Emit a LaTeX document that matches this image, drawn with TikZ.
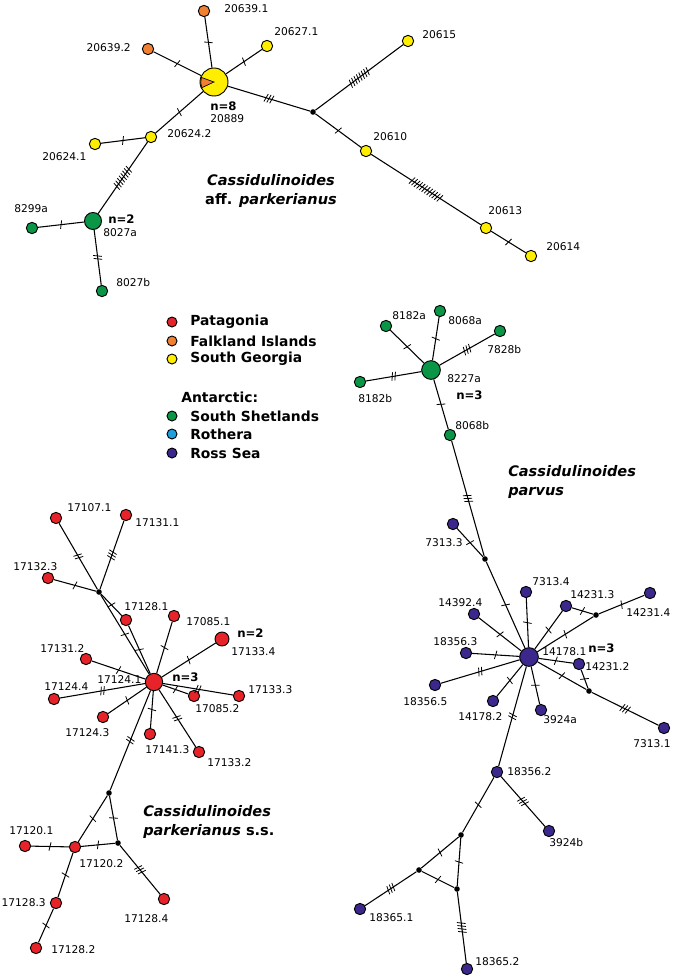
\documentclass[tikz,border=0pt]{standalone}
\usepackage{fontspec}
\setmainfont{DejaVu Sans}
\usetikzlibrary{decorations.markings}
\definecolor{patag}{RGB}{230,35,40}
\definecolor{falk}{RGB}{240,128,50}
\definecolor{sgeo}{RGB}{255,238,0}
\definecolor{shet}{RGB}{10,150,70}
\definecolor{roth}{RGB}{30,160,220}
\definecolor{ross}{RGB}{60,40,140}

\begin{document}
\begin{tikzpicture}[x=0.75pt,y=0.75pt,yscale=-1,xscale=1,
  hap/.style={circle,draw,line width=0.7pt,inner sep=0pt,minimum size=8.5pt},
  med/.style={circle,fill=black,inner sep=0pt,minimum size=4.2pt},
  link/.style={line width=0.8pt},
  muts/.style={postaction={decorate,decoration={markings,mark=at position 0.5 with {\foreach \k in {1,...,#1} {\draw[line width=0.6pt] ({(\k-(#1+1)/2)*3-1},-4.2) -- ({(\k-(#1+1)/2)*3+1},4.2);}}}}},
  lab/.style={inner sep=0.75pt,font=\fontsize{8}{9}\selectfont},
  nlab/.style={inner sep=0.75pt,font=\fontsize{8.8}{10}\selectfont\bfseries},
  leg/.style={inner sep=0.75pt,font=\fontsize{10.4}{12}\selectfont\bfseries},
  taxon/.style={inner sep=0.75pt,font=\fontsize{10.9}{14.3}\selectfont\bfseries\itshape}]
\useasboundingbox (0,0) rectangle (673,979);

% Cassidulinoides aff. parkerianus
\node [hap,fill=sgeo,minimum size=21pt] (n20889) at (214,82) {};
\draw [fill=falk,line width=0.5pt] (n20889.center) -- ++(155:10pt) arc[start angle=155,end angle=200,radius=10pt] -- cycle;
\node [med] (j1) at (313,112) {};
\node [hap,fill=falk] (n20639-1) at (204,11) {};
\node [hap,fill=sgeo] (n20627-1) at (267,46) {};
\node [hap,fill=falk] (n20639-2) at (148,49) {};
\node [hap,fill=sgeo] (n20624-2) at (151,137) {};
\node [hap,fill=sgeo] (n20624-1) at (95,144) {};
\node [hap,fill=shet,minimum size=12.75pt] (n8027a) at (93,221) {};
\node [hap,fill=shet] (n8299a) at (32,228) {};
\node [hap,fill=shet] (n8027b) at (102,291) {};
\node [hap,fill=sgeo] (n20615) at (408,41) {};
\node [hap,fill=sgeo] (n20610) at (366,151) {};
\node [hap,fill=sgeo] (n20613) at (486,228) {};
\node [hap,fill=sgeo] (n20614) at (531,256) {};

\draw [link,muts=1] (n20889) -- (n20639-1);
\draw [link,muts=1] (n20889) -- (n20627-1);
\draw [link,muts=1] (n20889) -- (n20639-2);
\draw [link,muts=1] (n20889) -- (n20624-2);
\draw [link,muts=3] (n20889) -- (j1);
\draw [link,muts=8] (j1) -- (n20615);
\draw [link,muts=1] (j1) -- (n20610);
\draw [link,muts=12] (n20610) -- (n20613);
\draw [link,muts=1] (n20613) -- (n20614);
\draw [link,muts=1] (n20624-2) -- (n20624-1);
\draw [link,muts=8] (n20624-2) -- (n8027a);
\draw [link,muts=1] (n8027a) -- (n8299a);
\draw [link,muts=2] (n8027a) -- (n8027b);

\node [lab,anchor=west] (t20639-1) at (223,9) {20639.1};
\node [lab,anchor=west] (t20627-1) at (273,32) {20627.1};
\node [lab,anchor=east] (t20639-2) at (132,48) {20639.2};
\node [nlab,anchor=west] (c20889) at (209,106) {n=8};
\node [lab,anchor=west] (t20889) at (209,119) {20889};
\node [lab,anchor=west] (t20624-2) at (166,134) {20624.2};
\node [lab,anchor=west] (t20624-1) at (41,157) {20624.1};
\node [nlab,anchor=west] (c8027a) at (107,219) {n=2};
\node [lab,anchor=west] (t8027a) at (102,233) {8027a};
\node [lab,anchor=west] (t8299a) at (13,209) {8299a};
\node [lab,anchor=west] (t8027b) at (115,283) {8027b};
\node [lab,anchor=west] (t20615) at (421,35) {20615};
\node [lab,anchor=west] (t20610) at (372,137) {20610};
\node [lab,anchor=west] (t20613) at (487,211) {20613};
\node [lab,anchor=west] (t20614) at (545,247) {20614};
\node [taxon,align=center] (taxaff) at (271,191) {Cassidulinoides\\{\upshape aff.} parkerianus};

% legend
\node [hap,fill=patag,minimum size=7.5pt] (lg1) at (172,322) {};
\node [hap,fill=falk,minimum size=7.5pt] (lg2) at (172,341) {};
\node [hap,fill=sgeo,minimum size=7.5pt] (lg3) at (172,359) {};
\node [hap,fill=shet,minimum size=7.5pt] (lg4) at (172,416) {};
\node [hap,fill=roth,minimum size=7.5pt] (lg5) at (172,434) {};
\node [hap,fill=ross,minimum size=7.5pt] (lg6) at (172,453) {};
\node [leg,anchor=west] (tlg1) at (189,322) {Patagonia};
\node [leg,anchor=west] (tlg2) at (189,341) {Falkland Islands};
\node [leg,anchor=west] (tlg3) at (189,359) {South Georgia};
\node [leg,anchor=west] (tant) at (180,397) {Antarctic:};
\node [leg,anchor=west] (tlg4) at (189,416) {South Shetlands};
\node [leg,anchor=west] (tlg5) at (189,434) {Rothera};
\node [leg,anchor=west] (tlg6) at (189,453) {Ross Sea};

% Cassidulinoides parvus
\node [hap,fill=shet,minimum size=14pt] (n8227a) at (431,370) {};
\node [hap,fill=shet] (n8182a) at (386,326) {};
\node [hap,fill=shet] (n8068a) at (440,311) {};
\node [hap,fill=shet] (n7828b) at (500,331) {};
\node [hap,fill=shet] (n8182b) at (360,382) {};
\node [hap,fill=shet] (n8068b) at (450,435) {};
\node [med] (j2) at (485,559) {};
\node [hap,fill=ross] (n7313-3) at (453,524) {};
\node [hap,fill=ross,minimum size=14pt] (n14178-1) at (529,657) {};
\node [hap,fill=ross] (n7313-4) at (526,592) {};
\node [hap,fill=ross] (n14392-4) at (474,614) {};
\node [hap,fill=ross] (n14231-3) at (566,606) {};
\node [med] (j3) at (596,615) {};
\node [hap,fill=ross] (n14231-4) at (650,593) {};
\node [hap,fill=ross] (n18356-3) at (466,653) {};
\node [hap,fill=ross] (n14231-2) at (579,664) {};
\node [med] (j4) at (589,691) {};
\node [hap,fill=ross] (n7313-1) at (664,728) {};
\node [hap,fill=ross] (n18356-5) at (435,685) {};
\node [hap,fill=ross] (n14178-2) at (493,701) {};
\node [hap,fill=ross] (n3924a) at (541,710) {};
\node [hap,fill=ross] (n18356-2) at (497,772) {};
\node [hap,fill=ross] (n3924b) at (549,831) {};
\node [med] (j5) at (461,835) {};
\node [med] (j6) at (419,870) {};
\node [med] (j7) at (457,889) {};
\node [hap,fill=ross] (n18365-1) at (360,909) {};
\node [hap,fill=ross] (n18365-2) at (467,969) {};

\draw [link,muts=1] (n8227a) -- (n8182a);
\draw [link,muts=1] (n8227a) -- (n8068a);
\draw [link,muts=3] (n8227a) -- (n7828b);
\draw [link,muts=2] (n8227a) -- (n8182b);
\draw [link,muts=1] (n8227a) -- (n8068b);
\draw [link,muts=3] (n8068b) -- (j2);
\draw [link,muts=1] (j2) -- (n7313-3);
\draw [link,muts=1] (j2) -- (n14178-1);
\draw [link,muts=1] (n14178-1) -- (n7313-4);
\draw [link,muts=1] (n14178-1) -- (n14392-4);
\draw [link,muts=1] (n14178-1) -- (n14231-3);
\draw [link,muts=1] (n14178-1) -- (j3);
\draw [link,muts=1] (j3) -- (n14231-3);
\draw [link,muts=1] (j3) -- (n14231-4);
\draw [link,muts=1] (n14178-1) -- (n18356-3);
\draw [link,muts=1] (n14178-1) -- (n14231-2);
\draw [link,muts=1] (n14231-2) -- (j4);
\draw [link,muts=1] (n14178-1) -- (j4);
\draw [link,muts=3] (j4) -- (n7313-1);
\draw [link,muts=2] (n14178-1) -- (n18356-5);
\draw [link,muts=1] (n14178-1) -- (n14178-2);
\draw [link,muts=1] (n14178-1) -- (n3924a);
\draw [link,muts=2] (n14178-1) -- (n18356-2);
\draw [link,muts=3] (n18356-2) -- (n3924b);
\draw [link,muts=1] (n18356-2) -- (j5);
\draw [link,muts=1] (j5) -- (j6);
\draw [link,muts=1] (j5) -- (j7);
\draw [link,muts=1] (j6) -- (j7);
\draw [link,muts=3] (j6) -- (n18365-1);
\draw [link,muts=4] (j7) -- (n18365-2);

\node [lab,anchor=west] (t8182a) at (391,316) {8182a};
\node [lab,anchor=west] (t8068a) at (447,321) {8068a};
\node [lab,anchor=west] (t7828b) at (486,350) {7828b};
\node [lab,anchor=west] (t8227a) at (446,379) {8227a};
\node [nlab,anchor=west] (c8227a) at (455,395) {n=3};
\node [lab,anchor=west] (t8182b) at (357,399) {8182b};
\node [lab,anchor=west] (t8068b) at (454,426) {8068b};
\node [lab,anchor=west] (t7313-3) at (424,543) {7313.3};
\node [lab,anchor=west] (t7313-4) at (531,582) {7313.4};
\node [lab,anchor=west] (t14392-4) at (437,603) {14392.4};
\node [lab,anchor=west] (t14231-3) at (569,595) {14231.3};
\node [lab,anchor=west] (t14231-4) at (625,613) {14231.4};
\node [lab,anchor=west] (t18356-3) at (432,642) {18356.3};
\node [lab,anchor=west] (t14178-1) at (541,652) {14178.1};
\node [nlab,anchor=west] (c14178-1) at (587,648) {n=3};
\node [lab,anchor=west] (t14231-2) at (584,667) {14231.2};
\node [lab,anchor=west] (t7313-1) at (632,744) {7313.1};
\node [lab,anchor=west] (t18356-5) at (402,702) {18356.5};
\node [lab,anchor=west] (t14178-2) at (457,717) {14178.2};
\node [lab,anchor=west] (t3924a) at (542,720) {3924a};
\node [lab,anchor=west] (t18356-2) at (506,772) {18356.2};
\node [lab,anchor=west] (t3924b) at (548,843) {3924b};
\node [lab,anchor=west] (t18365-1) at (368,918) {18365.1};
\node [lab,anchor=west] (t18365-2) at (474,962) {18365.2};
\node [taxon,anchor=west,align=left] (taxpar) at (507,482) {Cassidulinoides\\parvus};

% Cassidulinoides parkerianus s.s.
\node [hap,fill=patag,minimum size=13pt] (n17124-1) at (154,682) {};
\node [med] (j8) at (99,592) {};
\node [hap,fill=patag] (n17107-1) at (56,518) {};
\node [hap,fill=patag] (n17131-1) at (126,515) {};
\node [hap,fill=patag] (n17132-3) at (48,578) {};
\node [hap,fill=patag] (n17128-1) at (126,620) {};
\node [hap,fill=patag] (n17085-1) at (174,616) {};
\node [hap,fill=patag,minimum size=10.5pt] (n17133-4) at (222,639) {};
\node [hap,fill=patag] (n17131-2) at (86,659) {};
\node [hap,fill=patag] (n17124-4) at (54,699) {};
\node [hap,fill=patag] (n17124-3) at (103,717) {};
\node [hap,fill=patag] (n17141-3) at (150,734) {};
\node [hap,fill=patag] (n17133-2) at (199,752) {};
\node [hap,fill=patag] (n17085-2) at (194,696) {};
\node [hap,fill=patag] (n17133-3) at (239,696) {};
\node [med] (j9) at (109,793) {};
\node [med] (j10) at (118,843) {};
\node [hap,fill=patag] (n17120-2) at (75,847) {};
\node [hap,fill=patag] (n17120-1) at (25,846) {};
\node [hap,fill=patag] (n17128-3) at (56,903) {};
\node [hap,fill=patag] (n17128-2) at (36,948) {};
\node [hap,fill=patag] (n17128-4) at (164,899) {};

\draw [link,muts=2] (j8) -- (n17107-1);
\draw [link,muts=3] (j8) -- (n17131-1);
\draw [link,muts=1] (j8) -- (n17132-3);
\draw [link,muts=1] (j8) -- (n17128-1);
\draw [link,muts=1] (n17128-1) -- (n17124-1);
\draw [link,muts=1] (j8) -- (n17124-1);
\draw [link,muts=1] (n17124-1) -- (n17085-1);
\draw [link,muts=1] (n17124-1) -- (n17133-4);
\draw [link,muts=1] (n17124-1) -- (n17131-2);
\draw [link,muts=2] (n17124-1) -- (n17124-4);
\draw [link,muts=1] (n17124-1) -- (n17124-3);
\draw [link,muts=1] (n17124-1) -- (n17141-3);
\draw [link,muts=2] (n17124-1) -- (n17133-2);
\draw [link,muts=1] (n17124-1) -- (n17085-2);
\draw [link,muts=2] (n17124-1) -- (n17133-3);
\draw [link,muts=2] (n17124-1) -- (j9);
\draw [link,muts=1] (j9) -- (n17120-2);
\draw [link,muts=1] (j9) -- (j10);
\draw [link,muts=1] (n17120-2) -- (j10);
\draw [link,muts=1] (n17120-1) -- (n17120-2);
\draw [link,muts=1] (n17120-2) -- (n17128-3);
\draw [link,muts=1] (n17128-3) -- (n17128-2);
\draw [link,muts=3] (j10) -- (n17128-4);

\node [lab,anchor=west] (t17107-1) at (66,508) {17107.1};
\node [lab,anchor=west] (t17131-1) at (134,523) {17131.1};
\node [lab,anchor=west] (t17132-3) at (12,567) {17132.3};
\node [lab,anchor=west] (t17128-1) at (123,607) {17128.1};
\node [lab,anchor=west] (t17085-1) at (185,622) {17085.1};
\node [nlab,anchor=west] (c17133-4) at (236,633) {n=2};
\node [lab,anchor=west] (t17133-4) at (230,652) {17133.4};
\node [lab,anchor=west] (t17131-2) at (39,649) {17131.2};
\node [lab,anchor=west] (t17124-1) at (96,680) {17124.1};
\node [nlab,anchor=west] (c17124-1) at (171,677) {n=3};
\node [lab,anchor=west] (t17124-4) at (43,687) {17124.4};
\node [lab,anchor=west] (t17085-2) at (194,709) {17085.2};
\node [lab,anchor=west] (t17133-3) at (247,690) {17133.3};
\node [lab,anchor=west] (t17124-3) at (64,733) {17124.3};
\node [lab,anchor=west] (t17141-3) at (144,750) {17141.3};
\node [lab,anchor=west] (t17133-2) at (206,763) {17133.2};
\node [lab,anchor=west] (t17120-1) at (8,831) {17120.1};
\node [lab,anchor=west] (t17120-2) at (78,864) {17120.2};
\node [lab,anchor=east] (t17128-3) at (47,903) {17128.3};
\node [lab,anchor=west] (t17128-4) at (123,919) {17128.4};
\node [lab,anchor=west] (t17128-2) at (50,950) {17128.2};
\node [taxon,anchor=west,align=left] (taxss) at (142,822) {Cassidulinoides\\parkerianus {\upshape s.s.}};
\end{tikzpicture}
\end{document}
